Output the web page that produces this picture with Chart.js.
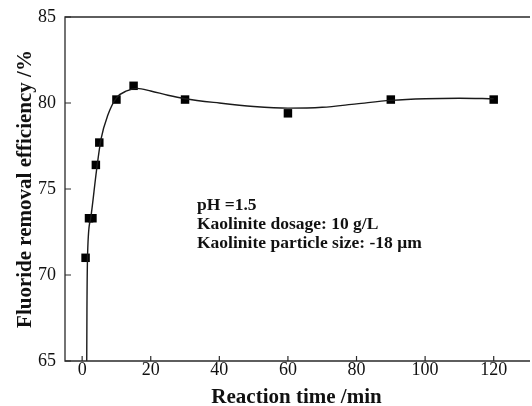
<!DOCTYPE html>
<html>
<head>
<meta charset="utf-8">
<script src="https://cdn.jsdelivr.net/npm/chart.js@4"></script>
<style>
    html, body { margin: 0; padding: 0; background: #ffffff; overflow: hidden; }
    #wrap { width: 534px; height: 406px; }
</style>
</head>
<body>
<div id="wrap"><canvas id="fluorideChart" width="534" height="406"></canvas></div>
<script>
// measured points
const timeMin = [1, 2, 3, 4, 5, 10, 15, 30, 60, 90, 120];
const removal = [71.0, 73.3, 73.3, 76.4, 77.7, 80.2, 81.0, 80.2, 79.4, 80.2, 80.2];

// fitted curve
const fitTime = [1.3, 1.4, 1.6, 2.5, 4.2, 5.5, 7.5, 10, 13, 16, 20, 25, 30, 40, 50, 60, 70, 80, 90, 100, 110, 120];
const fitRemoval = [63.0, 68.0, 71.3, 73.3, 76.1, 77.9, 79.3, 80.3, 80.7, 80.85, 80.7, 80.45, 80.25, 80.0, 79.8, 79.7, 79.75, 79.95, 80.15, 80.25, 80.28, 80.25];

const xTicks = [0, 20, 40, 60, 80, 100, 120];
const yTicks = [65, 70, 75, 80, 85];

const noteLines = ['pH =1.5', 'Kaolinite dosage: 10 g/L', 'Kaolinite particle size: -18 \u03bcm'];

const serif = '"Liberation Serif", "Times New Roman", serif';

// frame (no right edge, it runs off the picture), inner ticks, note text
const framePlugin = {
    id: 'frame',
    afterDraw(chart) {
        const { ctx, chartArea: a, scales } = chart;
        ctx.save();
        ctx.strokeStyle = '#2a2a2a';
        ctx.lineWidth = 1.3;
        ctx.beginPath();
        ctx.moveTo(a.right + 2, a.top);
        ctx.lineTo(a.left, a.top);
        ctx.lineTo(a.left, a.bottom);
        ctx.lineTo(a.right + 2, a.bottom);
        ctx.stroke();

        ctx.lineWidth = 1.2;
        ctx.beginPath();
        xTicks.forEach(v => {
            const x = scales.x.getPixelForValue(v);
            ctx.moveTo(x, a.bottom);
            ctx.lineTo(x, a.bottom - 5);
        });
        yTicks.forEach(v => {
            const y = scales.y.getPixelForValue(v);
            ctx.moveTo(a.left, y);
            ctx.lineTo(a.left + 6, y);
        });
        ctx.stroke();

        ctx.fillStyle = '#111111';
        ctx.font = 'bold 17.5px ' + serif;
        ctx.textBaseline = 'middle';
        noteLines.forEach((t, i) => {
            ctx.fillText(t, 197, 205 + i * 19);
        });
        ctx.restore();
    }
};

new Chart(document.getElementById('fluorideChart'), {
    type: 'scatter',
    data: {
        datasets: [
            {
                label: 'fit',
                type: 'line',
                data: fitTime.map((t, i) => ({ x: t, y: fitRemoval[i] })),
                borderColor: '#1a1a1a',
                borderWidth: 1.4,
                pointRadius: 0,
                fill: false,
                cubicInterpolationMode: 'monotone'
            },
            {
                label: 'measured',
                data: timeMin.map((t, i) => ({ x: t, y: removal[i] })),
                pointStyle: 'rect',
                pointRadius: 6,
                pointBorderWidth: 0,
                backgroundColor: '#000000',
                borderColor: '#000000'
            }
        ]
    },
    options: {
        responsive: false,
        animation: false,
        devicePixelRatio: 1,
        layout: { padding: { top: 17, right: 0, left: 0, bottom: 0 } },
        plugins: {
            legend: { display: false },
            tooltip: { enabled: false }
        },
        scales: {
            x: {
                type: 'linear',
                min: -5,
                max: 130,
                afterBuildTicks: s => { s.ticks = xTicks.map(v => ({ value: v })); },
                afterFit: s => { s.height = 45; s.paddingLeft = 0; s.paddingRight = 0; },
                grid: { display: false, drawTicks: false },
                border: { display: false },
                ticks: {
                    color: '#111111',
                    padding: -2,
                    font: { family: serif, size: 18 }
                },
                title: {
                    display: true,
                    text: 'Reaction time /min',
                    color: '#111111',
                    padding: { top: 0, bottom: 0 },
                    font: { family: serif, size: 21, weight: 'bold', lineHeight: 0.8 }
                }
            },
            y: {
                min: 65,
                max: 85,
                afterBuildTicks: s => { s.ticks = yTicks.map(v => ({ value: v })); },
                afterFit: s => { s.width = 65; s.paddingTop = 0; s.paddingBottom = 0; },
                grid: { display: false, drawTicks: false },
                border: { display: false },
                ticks: {
                    color: '#111111',
                    padding: 9,
                    font: { family: serif, size: 18 }
                },
                title: {
                    display: true,
                    text: 'Fluoride removal efficiency /%',
                    color: '#111111',
                    padding: { top: 13, bottom: 0 },
                    font: { family: serif, size: 21, weight: 'bold', lineHeight: 1.2 }
                }
            }
        }
    },
    plugins: [framePlugin]
});
</script>
</body>
</html>
